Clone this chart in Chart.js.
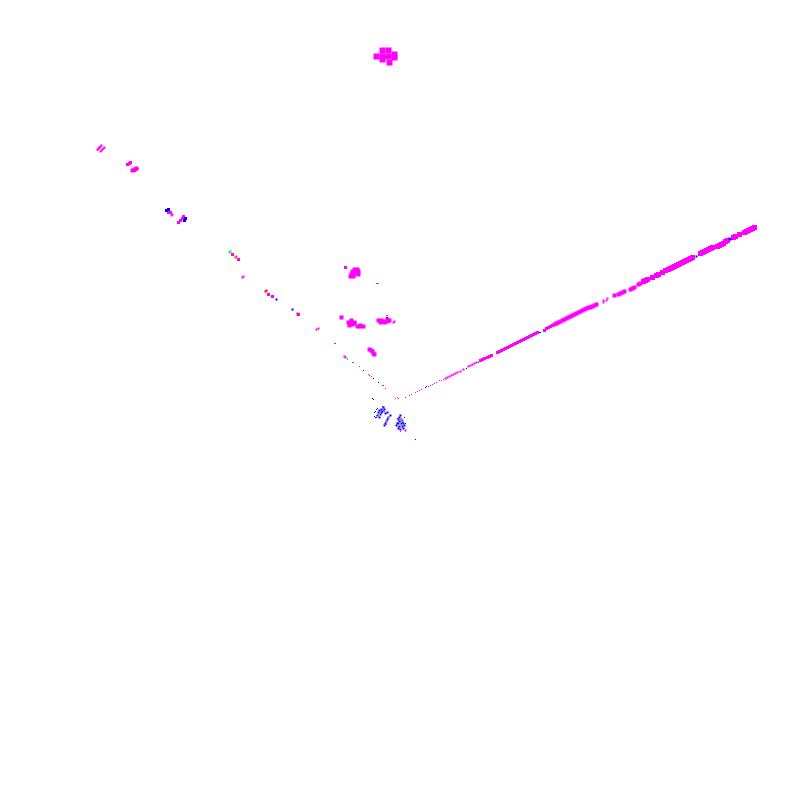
<html>
	<head>
		<style>
			html, body { margin: 0; padding: 0; background: #ffffff; }
			canvas { display: block; }
		</style>
		<script src="https://cdn.jsdelivr.net/npm/chart.js@4"></script>
		<script>
			// points as [x, y]
			var magentaFine = [[359,366],[368,374],[369,375],[371,376],[382,385],[383,385],[385,388],[395,398],[397,397],[398,398],[405,397],[409,395],[411,394],[415,392],[417,391],[419,390],[421,389],[428,386],[430,385],[432,384],[434,383],[436,382],[439,380],[441,380],[443,379],[352,362],[353,362],[334,343],[335,343],[376,283],[377,283],[378,283],[386,315],[387,315],[383,410],[384,411],[382,409],[386,424],[399,418],[398,420],[400,421],[397,424],[401,425],[399,428],[400,431]];
			var magentaSmall = [[345,357],[344,356],[445,378],[447,377],[449,376],[451,375],[453,374],[455,373],[457,372],[460,371],[463,369],[468,366],[470,365],[472,364],[474,363],[476,362],[603,302],[603,300],[606,300],[607,298],[242,277],[243,276],[297,313],[297,314],[316,329],[318,328],[393,322],[394,321],[97,149],[98,148],[99,147],[100,146],[101,145],[100,151],[101,150],[102,149],[103,148],[104,147],[171,215],[172,214],[405,430]];
			var lineMid = [[480,360],[482,359],[484,358],[487,357],[489,356],[491,355],[497,352],[499,351],[501,350],[503,349],[505,348],[507,347],[509,346],[511,345],[513,344],[515,343],[517,342],[519,341],[521,340],[523,339],[525,338],[527,337],[529,336],[531,335],[533,334],[535,333],[537,332],[544,330],[546,328],[548,327],[550,326],[552,325]];
			var lineBand = [[554,324],[556,323],[558,322],[560,321],[562,320],[564,319],[566,318],[568,317],[570,316],[572,315],[574,314],[576,313],[578,312],[580,311],[582,310],[584,309],[586,308],[588,307],[590,307],[592,306],[594,305],[596,304],[614,295],[618,294],[620,293],[622,292],[624,291],[630,289],[632,288],[634,287],[638,284],[640,283]];
			var lineThick = [[643,281],[645,280],[647,279],[652,277],[656,275],[658,274],[662,272],[665,270],[668,269],[670,268],[672,267],[674,266],[676,265],[678,264],[680,263],[682,262],[684,261],[686,260],[688,259],[690,258],[692,257],[700,253],[702,252],[704,251],[706,250],[708,249],[710,248],[712,247],[717,246],[719,245],[721,244],[723,243],[725,241],[727,240],[733,237],[735,236],[739,234],[744,232],[746,231],[748,230],[750,229],[752,228],[754,227]];
			var magentaBand = [[127,164],[129,163],[130,162],[178,222],[180,220],[182,218],[183,216],[232,254],[238,259],[272,296],[268,294],[345,267],[168,212],[170,212],[298,314]];
			var magentaThick = [[132,170],[134,169],[136,168],[341,317],[369,349],[371,350],[372,351],[373,353],[374,354],[354,269],[357,269],[352,271],[355,271],[358,271],[351,274],[354,274],[358,274],[350,276],[353,276],[351,320],[348,322],[351,322],[354,322],[349,325],[352,324],[354,323],[357,326],[360,326],[363,326],[360,325],[378,320],[380,322],[382,321],[385,321],[384,322],[381,320],[387,321],[389,320],[387,319]];
			var magentaBlob = [[382,50],[388,50],[382,56],[388,56],[394,54],[394,57],[376,56],[382,59],[389,62]];
			var blueFine = [[363,370],[373,378],[378,382],[425,387],[426,386],[372,398],[373,399],[382,406],[377,408],[376,409],[375,411],[374,412],[374,416],[376,417],[375,417],[404,417],[415,439],[405,423],[466,368],[478,362],[539,332],[540,332],[386,317],[387,317]];
			var blueMid = [[696,256],[730,239],[729,238],[276,299],[292,309],[383,407],[381,409],[384,409],[379,410],[382,411],[378,412],[385,413],[380,414],[377,415],[379,417],[381,412],[398,423],[387,419],[386,421],[385,423],[384,425],[388,417],[390,415],[387,412],[400,415],[399,417],[401,419],[398,419],[399,421],[402,421],[397,423],[401,423],[403,423],[396,425],[399,426],[402,426],[404,425],[398,428],[400,429],[403,428]];
			var blueLarge = [[166,210],[168,209],[185,218],[184,220]];
			var redPts = [[385,56],[387,56],[389,56],[357,268],[297,315],[136,169],[134,171],[397,418],[398,426]];
			var redMid = [[265,291],[266,290]];
			var pinkPts = [[97,150],[98,149],[99,148],[100,147],[135,171],[136,170],[137,169],[138,168]];
			var greenPts = [[347,358],[347,359],[400,424],[402,421],[399,422],[399,425]];
			var greenMid = [[229,252],[230,251]];
			var orangePts = [[316,330],[317,329],[388,417],[401,419],[400,427],[386,421]];
			var orangeMid = [[235,257],[236,256]];

			// largest point radius, the library pulls the chart area in by this much
			var inset = 6 * Math.SQRT1_2;

			function toPoints(list){
				var ans = [];
				for(var i = 0; i < list.length; i++){
					ans.push({x: list[i][0], y: list[i][1]});
				}
				return ans;
			}

			// side is the square's width in pixels
			function series(list, colour, side){
				return {
					data: toPoints(list),
					showLine: false,
					pointStyle: 'rect',
					pointRadius: side * Math.SQRT1_2,
					pointHoverRadius: side * Math.SQRT1_2,
					pointBorderWidth: 0,
					pointBackgroundColor: colour
				};
			}

			window.onload = function(){
				var ctx = document.getElementById("myChart").getContext('2d');
				new Chart(ctx, {
					type: 'scatter',
					data: {
						// first dataset is painted last
						datasets: [
							series(redPts, '#ff0000', 1),
							series(orangePts, '#ff8000', 1),
							series(greenPts, '#00ff00', 1),
							series(pinkPts, '#ff0090', 1),
							series(redMid, '#ff0000', 2),
							series(orangeMid, '#ff4000', 2),
							series(greenMid, '#00ff00', 2),
							series(magentaFine, '#ff00ff', 1),
							series(blueFine, '#0000ff', 1),
							series(blueMid, '#0000ff', 2),
							series(blueLarge, '#0000ff', 3),
							series(magentaSmall, '#ff00ff', 2),
							series(lineMid, '#ff00ff', 3),
							series(lineBand, '#ff00ff', 4),
							series(lineThick, '#ff00ff', 5),
							series(magentaBand, '#ff00ff', 3),
							series(magentaThick, '#ff00ff', 4),
							series(magentaBlob, '#ff00ff', 6)
						]
					},
					options: {
						responsive: false,
						animation: false,
						layout: { padding: 0 },
						plugins: { legend: { display: false }, tooltip: { enabled: false } },
						scales: {
							x: { display: false, min: inset - 0.5, max: 799.5 - inset },
							y: { display: false, min: inset - 0.5, max: 799.5 - inset, reverse: true }
						}
					}
				});
			};
		</script>
	</head>
	<body>
		<canvas id="myChart" width="800" height="800"></canvas>
	</body>
</html>
